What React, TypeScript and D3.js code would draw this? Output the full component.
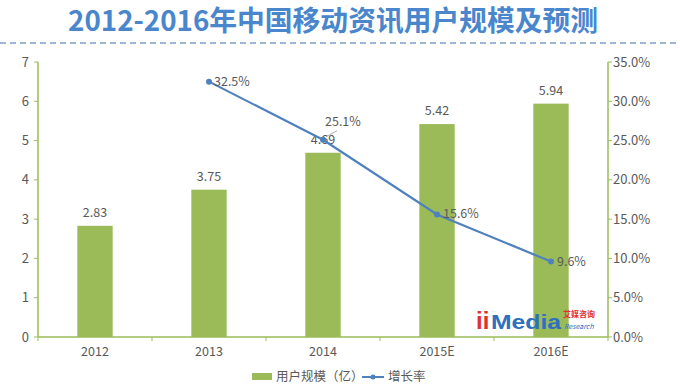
import React from "react";
import * as d3 from "d3";

const categories = ["2012", "2013", "2014", "2015E", "2016E"];
const users = [2.83, 3.75, 4.69, 5.42, 5.94];
const growth: (number | null)[] = [null, 32.5, 25.1, 15.6, 9.6];
const leftTicks = [0, 1, 2, 3, 4, 5, 6, 7];
const rightTicks = [0, 5, 10, 15, 20, 25, 30, 35];

const W = 680, H = 391;
const M = { left: 38, right: 608, top: 62, bottom: 337 };
const GREEN = "#9bbb59";
const BLUE = "#4f81bd";
const TXT = "#595959";
const FONT = "'Microsoft YaHei','Noto Sans CJK SC','Open Sans',sans-serif";

export default function App() {
  const x = d3.scaleBand<string>().domain(categories).range([M.left, M.right]).paddingInner(0.69).paddingOuter(0.345);
  const xc = d3.scaleBand<string>().domain(categories).range([M.left, M.right]);
  const yL = d3.scaleLinear().domain([0, 7]).range([M.bottom, M.top]);
  const yR = d3.scaleLinear().domain([0, 35]).range([M.bottom, M.top]);
  const cx = (c: string) => (xc(c) as number) + xc.bandwidth() / 2;
  const pts = categories.map((c, i) => ({ c, v: growth[i] })).filter((d) => d.v !== null) as { c: string; v: number }[];
  const line = d3.line<{ c: string; v: number }>().x((d) => cx(d.c)).y((d) => yR(d.v));
  const labelOffsets: Record<string, [number, number]> = {
    "2013": [5, 4],
    "2014": [2, -14],
    "2015E": [6, 4],
    "2016E": [6, 4],
  };
  return (
    <svg width={W} height={H} style={{ position: "absolute", left: 0, top: 0, fontFamily: FONT }}>
      <rect width={W} height={H} fill="#fff" />
      <text x={333} y={31} textAnchor="middle" fontSize={28} fontWeight="bold" fill="#4a86cc" textLength={530} lengthAdjust="spacingAndGlyphs">
        2012-2016年中国移动资讯用户规模及预测
      </text>
      <line x1={0} x2={W} y1={43} y2={43} stroke="#7f9fc8" strokeWidth={1.5} strokeDasharray="6,4" />

      {/* bars */}
      {categories.map((c, i) => (
        <g key={c}>
          <rect x={x(c)} y={yL(users[i])} width={x.bandwidth()} height={M.bottom - yL(users[i])} fill={GREEN} />
          <text x={cx(c)} y={yL(users[i]) - 9} textAnchor="middle" fontSize={12.5} fill={TXT}>
            {users[i].toFixed(2)}
          </text>
        </g>
      ))}

      {/* left axis */}
      <line x1={M.left} x2={M.left} y1={M.top} y2={M.bottom} stroke={GREEN} strokeWidth={1.5} />
      {leftTicks.map((t) => (
        <g key={t}>
          <line x1={M.left - 4} x2={M.left} y1={yL(t)} y2={yL(t)} stroke={GREEN} />
          <text x={M.left - 9} y={yL(t) + 4.5} textAnchor="end" fontSize={13} fill={TXT}>{t}</text>
        </g>
      ))}
      {/* right axis */}
      <line x1={M.right} x2={M.right} y1={M.top} y2={M.bottom} stroke={GREEN} strokeWidth={1.5} />
      {rightTicks.map((t) => (
        <g key={t}>
          <line x1={M.right} x2={M.right + 4} y1={yR(t)} y2={yR(t)} stroke={GREEN} />
          <text x={M.right + 5} y={yR(t) + 4.5} textAnchor="start" fontSize={13} fill={TXT}>{t.toFixed(1)}%</text>
        </g>
      ))}
      {/* bottom axis */}
      <line x1={M.left} x2={M.right} y1={M.bottom} y2={M.bottom} stroke={GREEN} strokeWidth={1.5} />
      {categories.map((c) => (
        <g key={c}>
          <line x1={xc(c) as number} x2={xc(c) as number} y1={M.bottom} y2={M.bottom + 4} stroke={GREEN} />
          <text x={cx(c)} y={M.bottom + 19} textAnchor="middle" fontSize={12.5} fill={TXT}>{c}</text>
        </g>
      ))}
      <line x1={M.right} x2={M.right} y1={M.bottom} y2={M.bottom + 4} stroke={GREEN} />

      {/* logo */}
      <g>
        <text x={476} y={329} fontSize={24} fontWeight="bold" fontFamily="Arial, 'Liberation Sans', sans-serif" fill="#e03030">ii</text>
        <text x={491} y={329} fontSize={21} fontWeight="bold" fontFamily="Arial, 'Liberation Sans', sans-serif" fill="#2e6fc0" textLength={70} lengthAdjust="spacingAndGlyphs">Media</text>
        <text x={563} y={317} fontSize={8} fontWeight="bold" fill="#e03030">艾媒咨询</text>
        <text x={564} y={329} fontSize={7} fontStyle="italic" fill="#2e6fc0">Research</text>
      </g>

      {/* line */}
      <path d={line(pts) || ""} fill="none" stroke={BLUE} strokeWidth={2.2} />
      {pts.map((d) => (
        <circle key={d.c} cx={cx(d.c)} cy={yR(d.v)} r={3} fill={BLUE} />
      ))}
      <line x1={cx("2014") + 3} x2={cx("2014") + 14} y1={yR(25.1) - 3} y2={yR(25.1) - 9} stroke="#999" strokeWidth={0.8} />
      {pts.map((d) => {
        const [dx, dy] = labelOffsets[d.c];
        return (
          <text key={d.c} x={cx(d.c) + dx} y={yR(d.v) + dy} fontSize={12.5} fill={TXT}>{d.v.toFixed(1)}%</text>
        );
      })}

      {/* legend */}
      <rect x={252} y={373} width={20} height={7} fill={GREEN} />
      <text x={276} y={381} fontSize={12.5} fill={TXT}>用户规模（亿）</text>
      <line x1={362} x2={384} y1={377} y2={377} stroke={BLUE} strokeWidth={2} />
      <circle cx={373} cy={377} r={2.5} fill={BLUE} />
      <text x={388} y={381} fontSize={12.5} fill={TXT}>增长率</text>
    </svg>
  );
}
